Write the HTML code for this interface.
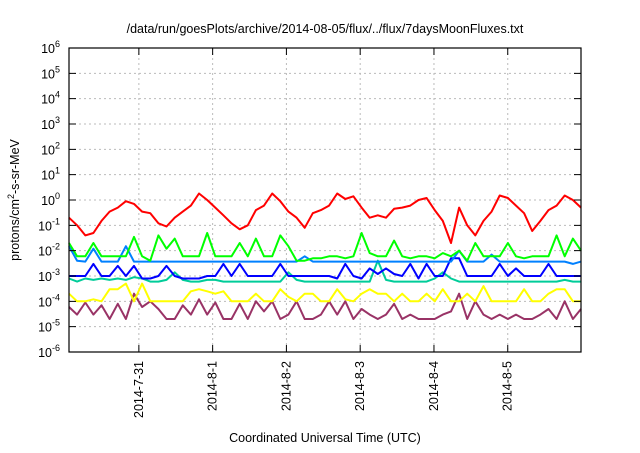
<!DOCTYPE html>
<html><head><meta charset="utf-8"><style>
body{margin:0;background:#fff;width:640px;height:448px;overflow:hidden;font-family:"Liberation Sans",sans-serif}
svg text{font-family:"Liberation Sans",sans-serif;fill:#000}
</style></head><body>
<svg id="chart" width="640" height="448" xmlns="http://www.w3.org/2000/svg">
<text x="325" y="33" font-size="12.5" text-anchor="middle">/data/run/goesPlots/archive/2014-08-05/flux/../flux/7daysMoonFluxes.txt</text>
<text transform="translate(19,200) rotate(-90)" font-size="12.5" text-anchor="middle">protons/cm<tspan font-size="9" dy="-5">2</tspan><tspan dy="5">-s-sr-MeV</tspan></text>
<text x="325" y="442" font-size="12.5" text-anchor="middle">Coordinated Universal Time (UTC)</text>
<g id="grid"></g><g id="series"></g><g id="axes"></g>
</svg>
<script>
const tickLabels = ["2014-7-31","2014-8-1","2014-8-2","2014-8-3","2014-8-4","2014-8-5"];
const tickDays = [1,2,3,4,5,6];
const yExponents = [-6,-5,-4,-3,-2,-1,0,1,2,3,4,5,6];
const red = [0.2,0.1,0.04,0.05,0.15,0.35,0.5,0.9,0.7,0.35,0.3,0.12,0.09,0.2,0.35,0.6,1.8,1.0,0.5,0.25,0.12,0.07,0.1,0.4,0.6,1.8,0.9,0.35,0.2,0.08,0.3,0.4,0.6,1.8,1.1,1.4,0.5,0.2,0.25,0.2,0.45,0.5,0.6,1.0,1.2,0.4,0.15,0.02,0.5,0.1,0.04,0.15,0.35,1.5,1.2,0.6,0.3,0.06,0.15,0.4,0.6,1.5,1.0,0.5];
const green = [0.02,0.006,0.006,0.02,0.006,0.006,0.006,0.006,0.035,0.006,0.004,0.04,0.012,0.03,0.006,0.006,0.006,0.05,0.006,0.006,0.006,0.02,0.006,0.03,0.006,0.006,0.04,0.015,0.004,0.004,0.005,0.005,0.006,0.006,0.005,0.006,0.05,0.008,0.006,0.006,0.025,0.006,0.005,0.006,0.006,0.005,0.008,0.006,0.01,0.004,0.02,0.006,0.006,0.006,0.02,0.006,0.005,0.006,0.006,0.006,0.04,0.006,0.03,0.01];
const lightBlue = [0.015,0.004,0.0037,0.012,0.0037,0.0037,0.0037,0.015,0.0037,0.0037,0.0037,0.0037,0.0037,0.0037,0.0037,0.0037,0.0037,0.0037,0.0037,0.0037,0.0037,0.0037,0.0037,0.0037,0.0037,0.0037,0.0037,0.0037,0.0037,0.006,0.0037,0.0037,0.0037,0.0037,0.0037,0.0037,0.0037,0.0037,0.0037,0.0037,0.0037,0.0037,0.0037,0.0037,0.0037,0.0037,0.0037,0.0037,0.01,0.0037,0.0037,0.0037,0.007,0.0037,0.0037,0.0037,0.0037,0.0037,0.0037,0.0037,0.0037,0.0037,0.003,0.0037];
const blue = [0.001,0.001,0.001,0.003,0.001,0.001,0.0025,0.001,0.0025,0.0008,0.0008,0.001,0.0025,0.001,0.0008,0.0008,0.0008,0.001,0.001,0.003,0.001,0.003,0.001,0.001,0.001,0.001,0.003,0.001,0.001,0.001,0.001,0.001,0.001,0.0008,0.003,0.001,0.0008,0.002,0.0012,0.002,0.0012,0.001,0.003,0.0008,0.003,0.001,0.001,0.005,0.005,0.001,0.001,0.001,0.001,0.003,0.001,0.002,0.001,0.001,0.001,0.003,0.001,0.001,0.001,0.001];
const teal = [0.0008,0.0006,0.0008,0.0007,0.0008,0.0007,0.0008,0.0007,0.0009,0.0008,0.0006,0.0006,0.0007,0.0014,0.0007,0.0006,0.0006,0.0007,0.0007,0.0006,0.0006,0.0006,0.0006,0.0006,0.0006,0.0006,0.0006,0.0014,0.0007,0.0006,0.0006,0.0006,0.0006,0.0006,0.0006,0.0006,0.0006,0.0006,0.004,0.0007,0.0006,0.0006,0.0006,0.0006,0.0006,0.0008,0.0014,0.0008,0.0006,0.0006,0.0006,0.0006,0.0006,0.0006,0.0006,0.0006,0.0006,0.0006,0.0006,0.0006,0.0006,0.0007,0.0006,0.0006];
const yellow = [0.0002,0.0001,0.0001,0.00012,0.0001,0.0003,0.0003,0.0005,0.0001,0.0005,0.0001,0.0001,0.0001,0.0001,0.0001,0.00025,0.0003,0.00025,0.0002,0.00025,0.0001,0.0001,0.0001,0.0002,0.0001,0.0001,0.0003,0.00015,0.0001,0.0002,0.0002,0.0001,0.0001,0.0003,0.00012,0.0001,0.0002,0.0003,0.0002,0.0002,0.0001,0.0002,0.0001,0.0001,0.0002,0.0001,0.0003,0.0001,0.0001,0.0002,0.0001,0.0004,0.0001,0.0001,0.0001,0.0001,0.0003,0.0001,0.0001,0.0002,0.0003,0.0003,0.0001,0.0001];
const purple = [0.00006,0.00003,0.00009,0.00003,0.00007,0.00002,0.00008,0.00002,0.0002,0.00006,0.0001,0.00005,0.00002,0.00002,0.00007,0.00003,0.00012,0.00003,0.00009,0.00002,0.00002,0.00008,0.00002,0.0001,0.00004,0.0001,0.00002,0.00003,0.0001,0.00002,0.00002,0.00003,0.0001,0.00003,0.0001,0.00002,0.00005,0.00003,0.00002,0.00003,0.00008,0.00002,0.00003,0.00002,0.00002,0.00002,0.00003,0.00004,0.0002,0.00002,0.0001,0.00003,0.00002,0.00003,0.00002,0.00003,0.00002,0.00002,0.00003,0.00005,0.00002,0.0001,0.00002,0.00005];
const seriesList = [["series-purple",purple,"#993366"],["series-yellow",yellow,"#ffff00"],["series-teal",teal,"#00cc99"],["series-blue",blue,"#0000ff"],["series-light-blue",lightBlue,"#0080ff"],["series-green",green,"#00ff00"],["series-red",red,"#ff0000"]];

const NS="http://www.w3.org/2000/svg";
const L=69,R=581,T=48,B=352,DAYS=6.94,START=0.053;
function xDay(d){return L+(d-START)/DAYS*(R-L);}
function xIdx(i,n){return L+i/(n-1)*(R-L);}
function yLog(v){return B-(Math.log10(v)+6)/12*(B-T);}
function mk(tag,attrs,parent){const e=document.createElementNS(NS,tag);for(const k in attrs)e.setAttribute(k,attrs[k]);parent.appendChild(e);return e;}
const grid=document.getElementById('grid'),axes=document.getElementById('axes'),ser=document.getElementById('series');
yExponents.forEach(p=>{
  const y=B-(p+6)/12*(B-T);
  if(p>-6&&p<6){const g=mk('line',{x1:L,x2:R,y1:y,y2:y,stroke:'#bbb','stroke-dasharray':'2,3','stroke-width':1},grid);
  
  }
  const tk=mk('path',{d:`M${L},${y}h7M${R},${y}h-7`,stroke:'#000','stroke-width':1},axes);
  
  
  const t=mk('text',{x:60,y:y+5,'font-size':12.5,'text-anchor':'end'},axes);
  
  
  t.innerHTML='10<tspan font-size="9" dy="-6">'+(p<0?'-'+(-p):p)+'</tspan>';
});
tickDays.forEach((d,i)=>{
  const x=xDay(d);
  const g=mk('line',{x1:x,x2:x,y1:T,y2:B,stroke:'#bbb','stroke-dasharray':'2,3','stroke-width':1},grid);
  
  
  const tk=mk('path',{d:`M${x},${B}v-7M${x},${T}v7`,stroke:'#000','stroke-width':1},axes);
  
  
  const t=mk('text',{transform:`translate(${x+4},${361}) rotate(-90)`,'font-size':12.5,'text-anchor':'end'},axes);
  
  
  t.textContent=tickLabels[i];
});
const frame=mk('rect',{x:L,y:T,width:R-L,height:B-T,fill:'none',stroke:'#000','stroke-width':1.2},axes);


seriesList.forEach(([name,vals,col])=>{
  const pts=vals.map((v,i)=>xIdx(i,vals.length).toFixed(1)+','+yLog(v).toFixed(1)).join(' ');
  const pl=mk('polyline',{points:pts,fill:'none',stroke:col,'stroke-width':2,'stroke-linejoin':'round'},ser);
  
  
});
</script>
</body></html>
